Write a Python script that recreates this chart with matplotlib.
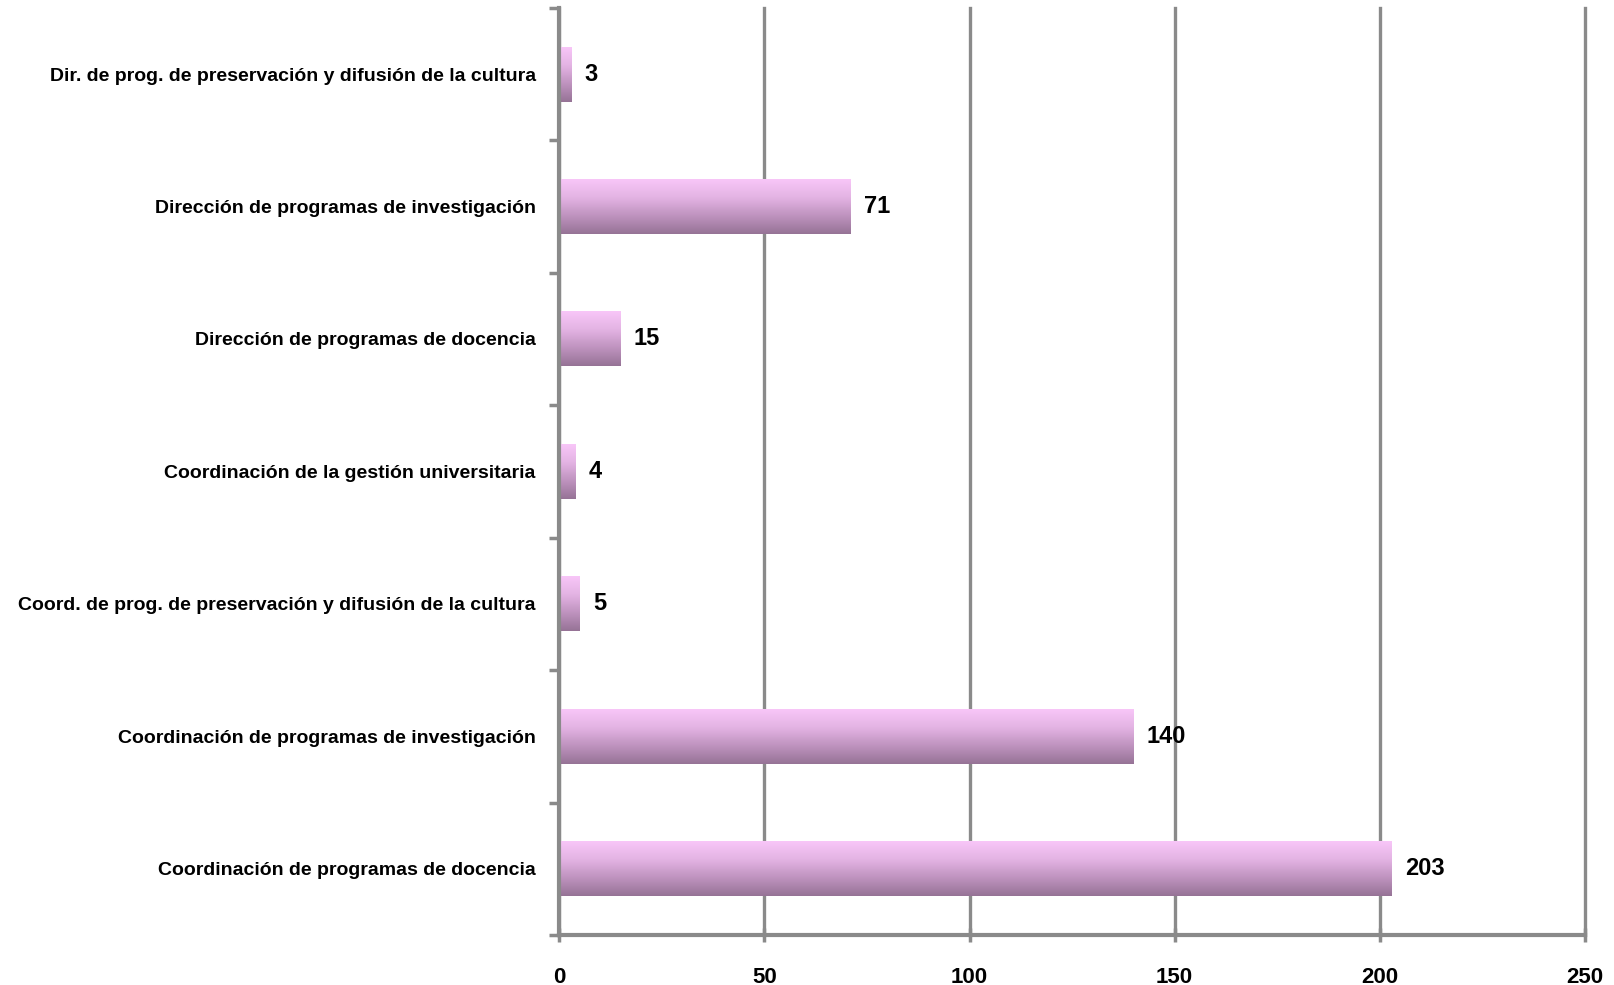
import matplotlib.pyplot as plt
import numpy as np
from matplotlib.colors import LinearSegmentedColormap

# --- data (bottom to top) ---
categories = [
    'Coordinación de programas de docencia',
    'Coordinación de programas de investigación',
    'Coord. de prog. de preservación y difusión de la cultura',
    'Coordinación de la gestión universitaria',
    'Dirección de programas de docencia',
    'Dirección de programas de investigación',
    'Dir. de prog. de preservación y difusión de la cultura',
]
values = [203, 140, 5, 4, 15, 71, 3]
x_ticks = [0, 50, 100, 150, 200, 250]

plt.rcParams['font.family'] = ['Liberation Sans', 'DejaVu Sans']

grey = '#8a8a8a'
# degradado: oscuro abajo -> claro arriba
grad_cmap = LinearSegmentedColormap.from_list(
    'pink', ['#967396', '#bf93bf', '#e3b3e3', '#f8c6f8'])


def draw_gradient_bars(ax, bars):
    grad = np.linspace(0, 1, 128).reshape(-1, 1)
    for b in bars:
        x0, y0 = b.get_x(), b.get_y()
        x1, y1 = x0 + b.get_width(), y0 + b.get_height()
        ax.imshow(grad, cmap=grad_cmap, aspect='auto', origin='lower',
                  extent=(x0, x1, y0, y1), zorder=2, interpolation='bilinear')
        b.set_visible(False)


def main():
    fig = plt.figure(figsize=(16.14, 9.85), dpi=100)
    ax = fig.add_axes([0.3465, 0.0508, 0.6355, 0.9412])

    y_pos = np.arange(len(categories))
    bars = ax.barh(y_pos, values, height=0.415, color='#d0a0d0', zorder=2)
    draw_gradient_bars(ax, bars)

    ax.set_xlim(0, 250)
    ax.set_ylim(-0.5, len(categories) - 0.5)

    # etiquetas de valor
    for b, v in zip(bars, values):
        ax.text(b.get_width() + 3.2, b.get_y() + b.get_height() / 2, str(v),
                ha='left', va='center', fontsize=17, fontweight='bold',
                color='black')

    ax.set_xticks(x_ticks)
    ax.set_xticklabels([str(t) for t in x_ticks], fontsize=16, fontweight='bold')
    ax.tick_params(axis='x', length=10, width=2.5, color=grey, pad=18,
                   direction='inout')

    ax.set_yticks(y_pos)
    ax.set_yticklabels(categories, fontsize=14, fontweight='bold')
    ax.set_yticks(np.arange(-0.5, len(categories)), minor=True)
    ax.tick_params(axis='y', which='major', length=0, pad=17)
    ax.tick_params(axis='y', which='minor', length=7, width=2.5, color=grey)

    ax.xaxis.grid(True, color=grey, linewidth=2.4, zorder=0)
    for gl in ax.get_xgridlines():
        gl.set_clip_on(False)
    ax.set_axisbelow(True)

    for s in ('top', 'right'):
        ax.spines[s].set_visible(False)
    for s in ('left', 'bottom'):
        ax.spines[s].set_color(grey)
        ax.spines[s].set_linewidth(3)

    fig.savefig('out.png', dpi=100)


if __name__ == '__main__':
    main()
